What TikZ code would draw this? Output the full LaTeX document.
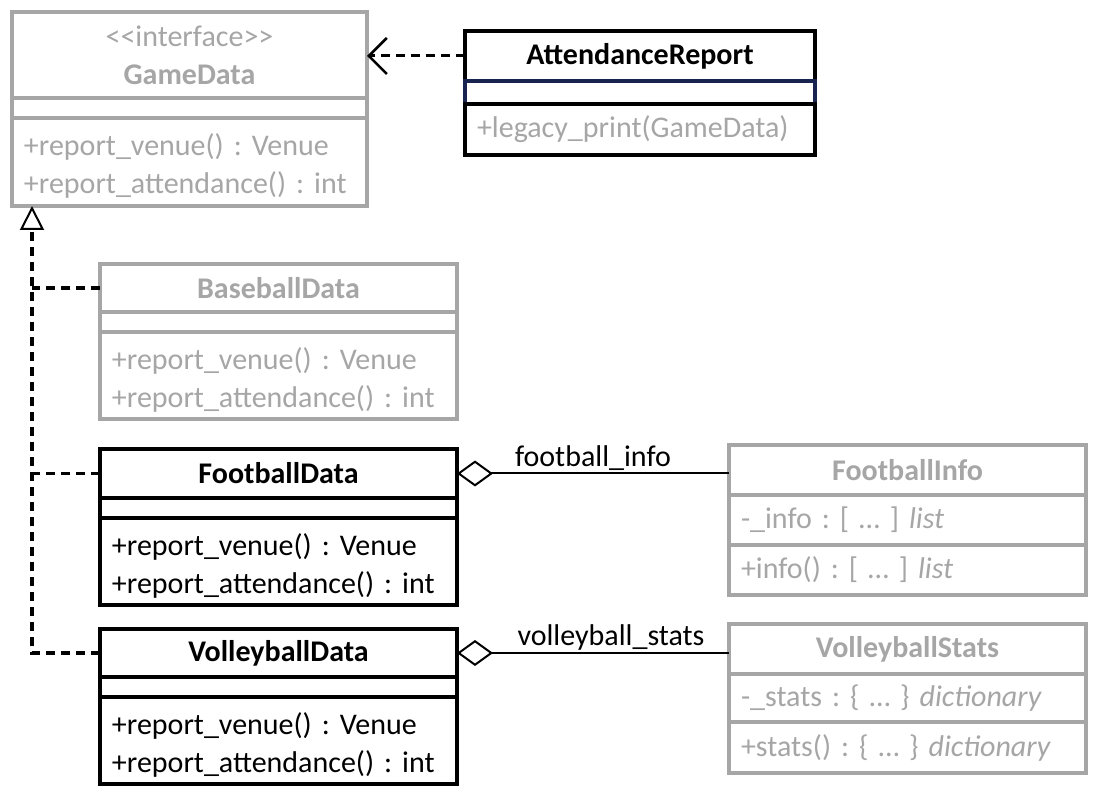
\documentclass[tikz,border=0pt]{standalone}
\usepackage{fontspec}
\setmainfont{Carlito}
\usetikzlibrary{arrows.meta, positioning}
\definecolor{umlgrey}{RGB}{166,166,166}
\definecolor{umlnavy}{RGB}{25,35,80}
\tikzset{
    head/.style={draw, line width=1.6pt, fill=white, outer sep=0pt, inner sep=0pt, minimum width=178.5pt, minimum height=24.5pt, align=center, font=\bfseries},
    blank/.style={draw, line width=1.6pt, fill=white, outer sep=0pt, inner sep=0pt, minimum width=178.5pt, minimum height=10pt},
    ops/.style={draw, line width=1.6pt, fill=white, outer sep=0pt, inner xsep=6pt, inner ysep=0pt, text width=166.5pt, minimum height=25pt, align=left},
    methods/.style={ops, minimum height=43.5pt, execute at begin node={\rule{0pt}{15pt}}},
    faded/.style={draw=umlgrey, text=umlgrey},
    realize/.style={dash pattern=on 4.5pt off 3pt, line width=1.9pt},
    depend/.style={-{Straight Barb[length=9pt, width=18pt, line width=1.3pt]}, dash pattern=on 4.5pt off 3pt, line width=1.5pt},
    aggr/.style={{Diamond[open, length=18pt, width=13pt]}-, line width=1pt},
    role/.style={above=1pt, inner sep=0pt}
}
\begin{document}
\fontsize{15}{19}\selectfont\frenchspacing
\begin{tikzpicture}[x=0.5pt, y=-0.5pt]
    \useasboundingbox (0,0) rectangle (1100,808);
    % interface
    \node [head, faded, anchor=north west, minimum width=177.5pt, minimum height=43pt] (game) at (12,12) {\mdseries\textless\kern0pt\textless interface\textgreater\kern0pt\textgreater\\GameData};
    \node [blank, faded, minimum width=177.5pt, below=0pt of game] (gameattr) {};
    \node [methods, faded, text width=165.5pt, minimum height=44pt, below=0pt of gameattr] (gameops) {+report\_venue() : Venue\\+report\_attendance() : int};
    % client
    \node [head, anchor=north west, minimum width=175pt, minimum height=25pt] (report) at (465,31) {AttendanceReport};
    \node [blank, draw=umlnavy, minimum width=175pt, minimum height=11.5pt, below=0pt of report] (reportattr) {};
    \node [ops, text=umlgrey, text width=163pt, minimum height=25.5pt, below=0pt of reportattr] (reportops) {+legacy\_print(GameData)};
    % implementations
    \node [head, faded, anchor=north west, minimum height=24pt] (base) at (100,264) {BaseballData};
    \node [blank, faded, below=0pt of base] (baseattr) {};
    \node [methods, faded, below=0pt of baseattr] (baseops) {+report\_venue() : Venue\\+report\_attendance() : int};
    \node [head, anchor=north west] (foot) at (100,449) {FootballData};
    \node [blank, below=0pt of foot] (footattr) {};
    \node [methods, below=0pt of footattr] (footops) {+report\_venue() : Venue\\+report\_attendance() : int};
    \node [head, anchor=north west, minimum height=24pt] (volley) at (100,629) {VolleyballData};
    \node [blank, below=0pt of volley] (volleyattr) {};
    \node [methods, below=0pt of volleyattr] (volleyops) {+report\_venue() : Venue\\+report\_attendance() : int};
    % adaptees
    \node [head, faded, anchor=north west, minimum height=25pt] (finfo) at (729,445) {FootballInfo};
    \node [ops, faded, below=0pt of finfo] (finfoattr) {-\_info : [ \ldots{} ] \textit{list}};
    \node [ops, faded, below=0pt of finfoattr] (finfoops) {+info() : [ \ldots{} ] \textit{list}};
    \node [head, faded, anchor=north west, minimum height=25pt] (vstats) at (729,624) {VolleyballStats};
    \node [ops, faded, minimum height=24pt, below=0pt of vstats] (vstatsattr) {-\_stats : \{ \ldots{} \} \textit{dictionary}};
    \node [ops, faded, minimum height=25.5pt, below=0pt of vstatsattr] (vstatsops) {+stats() : \{ \ldots{} \} \textit{dictionary}};
    % connectors
    \coordinate (gtip) at ([xshift=10pt]game.south west |- gameops.south);
    \draw [depend] (report.west) -- (report.west -| game.east);
    \draw [realize, -{Triangle[open, length=12pt, width=12pt, line width=1pt]}] (volley.west) -| (gtip);
    \draw [realize] (base.west) -- (base.west -| gtip);
    \draw [realize] (foot.west) -- (foot.west -| gtip);
    \draw [aggr] (foot.east) -- node [role] {football\_info} (foot.east -| finfo.west);
    \draw [aggr] (volley.east) -- node [role, xshift=9pt] {volleyball\_stats} (volley.east -| vstats.west);
\end{tikzpicture}
\end{document}
